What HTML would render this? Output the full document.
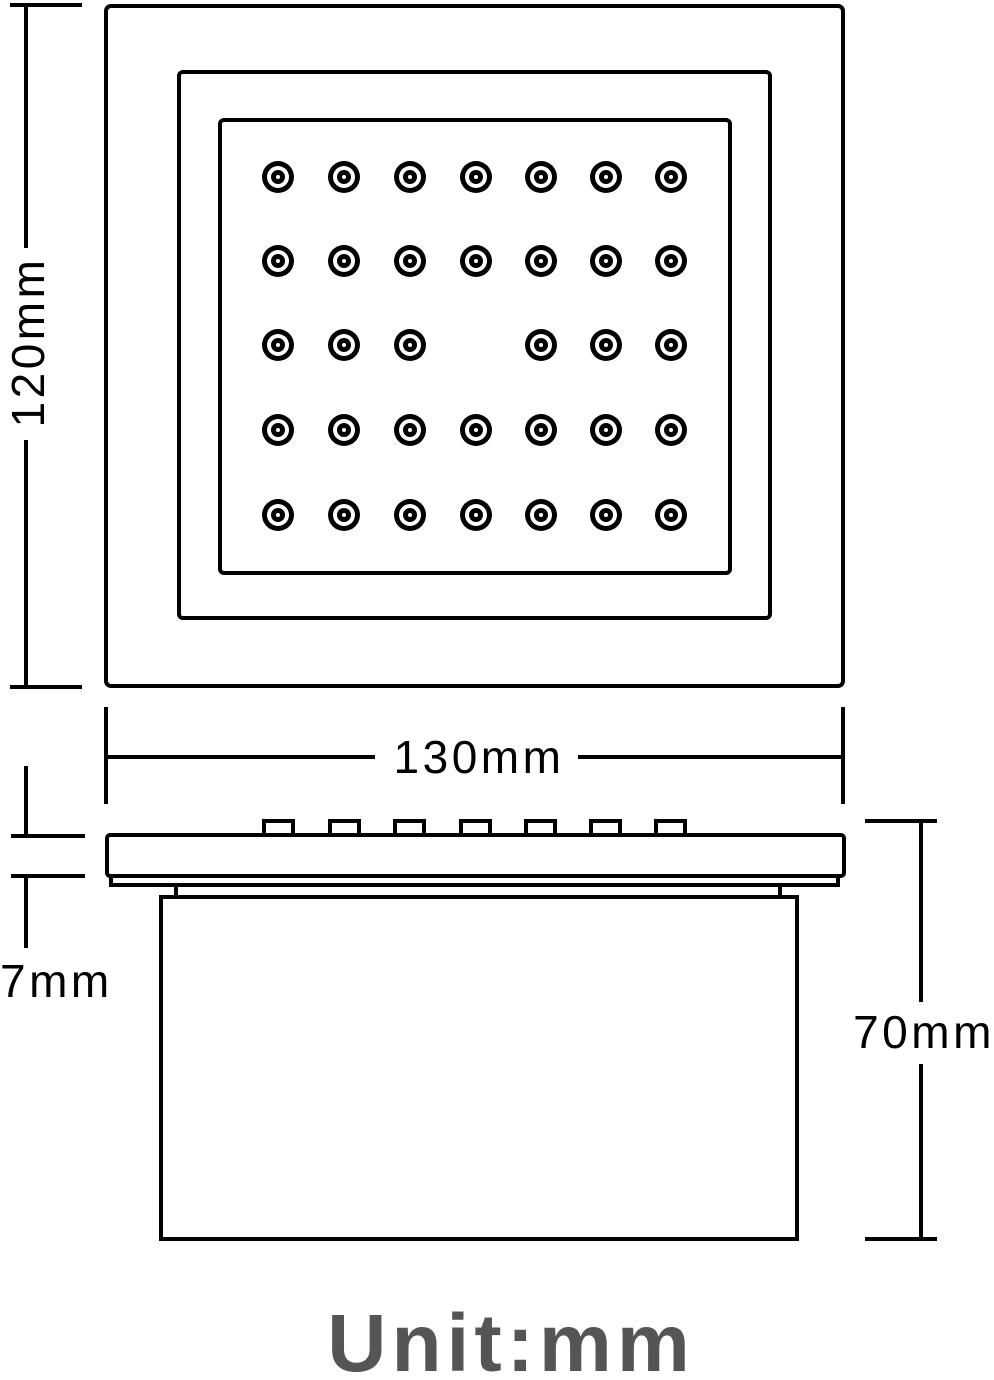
<!DOCTYPE html>
<html><head><style>html,body{margin:0;padding:0;background:#fff}svg{display:block}</style></head>
<body>
<svg width="994" height="1380" viewBox="0 0 994 1380" xmlns="http://www.w3.org/2000/svg">
<g fill="none" stroke="#000" stroke-width="4">
<rect x="106" y="6" width="737" height="680" rx="5"/>
<rect x="179" y="72" width="591" height="546" rx="4"/>
<rect x="220" y="120" width="510" height="453" rx="4"/>
<line x1="10" y1="5" x2="82" y2="5"/>
<line x1="10" y1="687" x2="82" y2="687"/>
<line x1="26" y1="5" x2="26" y2="248"/>
<line x1="26" y1="440" x2="26" y2="687"/>
<line x1="106" y1="707" x2="106" y2="804"/>
<line x1="843" y1="707" x2="843" y2="804"/>
<line x1="106" y1="757" x2="375" y2="757"/>
<line x1="578" y1="757" x2="843" y2="757"/>
<path d="M110 835 H841 a3 3 0 0 1 3 3 V873 a3 3 0 0 1 -3 3 H110 a3 3 0 0 1 -3 -3 V838 a3 3 0 0 1 3 -3Z"/>
<path d="M111 876 V885 H838 V876"/>
<line x1="176" y1="886" x2="176" y2="897"/>
<line x1="780" y1="886" x2="780" y2="897"/>
<rect x="161" y="897" width="636" height="342"/>
<line x1="26" y1="766" x2="26" y2="836"/>
<line x1="11" y1="836" x2="85" y2="836"/>
<line x1="11" y1="876" x2="85" y2="876"/>
<line x1="26" y1="876" x2="26" y2="948"/>
<line x1="865" y1="821" x2="937" y2="821"/>
<line x1="865" y1="1239" x2="937" y2="1239"/>
<line x1="921" y1="821" x2="921" y2="1002"/>
<line x1="921" y1="1064" x2="921" y2="1239"/>
</g>
<g fill="none" stroke="#000" stroke-width="4">
<rect x="264" y="821" width="29" height="14"/><rect x="330" y="821" width="29" height="14"/><rect x="395" y="821" width="29" height="14"/><rect x="461" y="821" width="29" height="14"/><rect x="526" y="821" width="29" height="14"/><rect x="591" y="821" width="29" height="14"/><rect x="656" y="821" width="29" height="14"/>
</g>
<defs><g id="n"><circle r="16" fill="#000"/><circle r="11" fill="#fff"/><circle r="7" fill="#000"/><circle r="2" fill="#fff"/></g></defs>
<g id="r1">
<use href="#n" x="278" y="177"/><use href="#n" x="344" y="177"/><use href="#n" x="410" y="177"/><use href="#n" x="476" y="177"/><use href="#n" x="541" y="177"/><use href="#n" x="606" y="177"/><use href="#n" x="671" y="177"/>
</g>
<use href="#r1" y="84"/>
<use href="#r1" y="253"/>
<use href="#r1" y="338"/>
<use href="#n" x="278" y="345"/><use href="#n" x="344" y="345"/><use href="#n" x="410" y="345"/><use href="#n" x="541" y="345"/><use href="#n" x="606" y="345"/><use href="#n" x="671" y="345"/>
<g font-family="Liberation Sans, sans-serif" font-size="46" fill="#000" letter-spacing="3.5">
<text transform="translate(44,342) rotate(-90)" text-anchor="middle">120mm</text>
<text x="479" y="773" text-anchor="middle">130mm</text>
<text x="0" y="997">7mm</text>
<text x="924" y="1048" text-anchor="middle">70mm</text>
</g>
<text x="511" y="1371" text-anchor="middle" font-family="Liberation Sans, sans-serif" font-weight="bold" font-size="82" letter-spacing="5" fill="#555">Unit:mm</text>
</svg>
</body></html>
